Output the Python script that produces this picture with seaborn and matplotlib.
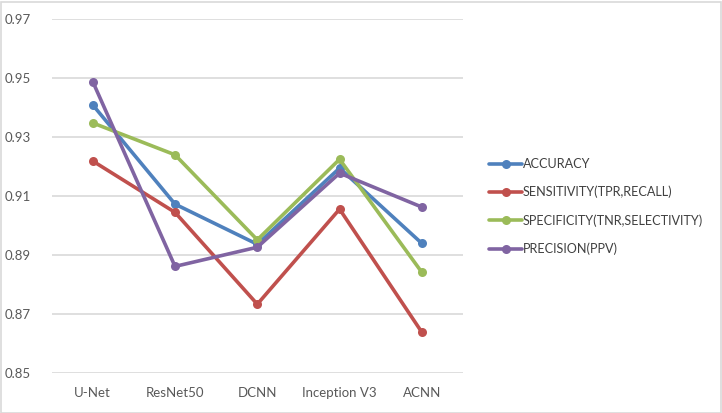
import matplotlib
matplotlib.use("Agg")
import matplotlib.pyplot as plt
import seaborn as sns
import pandas as pd
from matplotlib.patches import Rectangle

models = ["U-Net", "ResNet50", "DCNN", "Inception V3", "ACNN"]
metrics = ["ACCURACY", "SENSITIVITY(TPR,RECALL)", "SPECIFICITY(TNR,SELECTIVITY)", "PRECISION(PPV)"]
accuracy = [0.9408, 0.9072, 0.8936, 0.9194, 0.8939]
sensitivity = [0.9218, 0.9044, 0.8733, 0.9055, 0.8638]
specificity = [0.9347, 0.9239, 0.8951, 0.9224, 0.8841]
precision = [0.9487, 0.8861, 0.8926, 0.9177, 0.9062]
colors = ["#4F81BD", "#C0504D", "#9BBB59", "#8064A2"]
yticks = [0.85, 0.87, 0.89, 0.91, 0.93, 0.95, 0.97]

rows = []
for name, vals in zip(metrics, [accuracy, sensitivity, specificity, precision]):
    for m, v in zip(models, vals):
        rows.append({"model": m, "value": v, "metric": name})
df = pd.DataFrame(rows)

sns.set_theme(style="white")
plt.rcParams["font.family"] = ["Lato", "DejaVu Sans"]

fig = plt.figure(figsize=(7.22, 4.13), dpi=100)
ax = fig.add_axes([51.6 / 722, 1 - 373 / 413, (463 - 51.6) / 722, (373 - 18.7) / 413])

sns.lineplot(data=df, x="model", y="value", hue="metric", hue_order=metrics,
             palette=colors, marker="o", markersize=6.5, linewidth=2.6,
             markeredgewidth=0, ax=ax, sort=False)

ax.set_xlim(-0.5, 4.5)
ax.set_ylim(0.85, 0.97)
ax.set_yticks(yticks)
ax.set_yticklabels([f"{t:.2f}" for t in yticks], fontsize=9.5, color="#595959")
ax.set_xticks(range(len(models)))
ax.set_xticklabels(models, fontsize=9.5, color="#595959")
ax.tick_params(axis="y", length=0, pad=15)
ax.tick_params(axis="x", length=0, pad=10)
ax.set_xlabel("")
ax.set_ylabel("")
ax.yaxis.grid(True, color="#D9D9D9", linewidth=1.2)
ax.set_axisbelow(True)
for s in ax.spines.values():
    s.set_visible(False)

handles, labels = ax.get_legend_handles_labels()
ax.legend(handles, labels, loc="upper left", bbox_to_anchor=(489 / 722, 1 - 158 / 413),
          bbox_transform=fig.transFigure, frameon=False, fontsize=9.1,
          handlelength=2.65, handletextpad=0.05, labelspacing=1.25,
          labelcolor="#404040", borderaxespad=0, borderpad=0)

fig.patches.append(Rectangle((0.5 / 722, 0.5 / 413), 720 / 722, 411 / 413,
                             transform=fig.transFigure, fill=False,
                             edgecolor="#D9D9D9", linewidth=1.2))

fig.savefig("out.png", dpi=100)
